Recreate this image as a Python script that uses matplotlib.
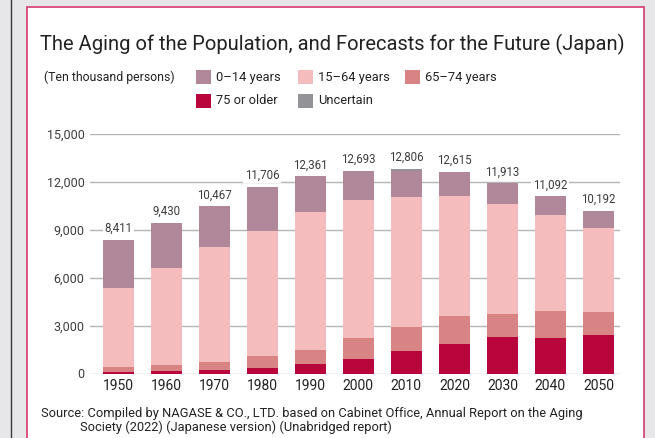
#!/usr/bin/env python3
"""
Stacked bar chart: the aging of the population in Japan, 1950-2050.

Output:
    out.png
"""

import numpy as np
import matplotlib.pyplot as plt
from matplotlib.patches import Rectangle
from matplotlib.lines import Line2D


# ============================================================
# Data (ten thousand persons)
# ============================================================

YEARS = ["1950", "1960", "1970", "1980", "1990", "2000",
         "2010", "2020", "2030", "2040", "2050"]

AGE_75_PLUS = [107, 163, 224, 366, 597, 900, 1407, 1860, 2288, 2239, 2417]
AGE_65_74 = [309, 376, 516, 699, 892, 1301, 1517, 1742, 1435, 1681, 1424]
AGE_15_64 = [4966, 6047, 7212, 7884, 8614, 8638, 8103, 7509, 6875, 5978, 5275]
AGE_0_14 = [2979, 2843, 2515, 2751, 2249, 1851, 1684, 1503, 1321, 1194, 1077]
UNCERTAIN = [0, 0, 0, 0, 0, 0, 70, 0, 0, 0, 0]

TOTALS = [8411, 9430, 10467, 11706, 12361, 12693,
          12806, 12615, 11913, 11092, 10192]

Y_TICKS = [0, 3000, 6000, 9000, 12000, 15000]


# ============================================================
# Style
# ============================================================

FONT = ["Roboto", "DejaVu Sans"]

COLORS = {
    "0\u201314 years": "#b0889a",
    "15\u201364 years": "#f5bcbe",
    "65\u201374 years": "#d88484",
    "75 or older": "#b8053c",
    "Uncertain": "#939397",
}

BG_GRAY = "#e7e7e9"
CARD_EDGE = "#d9487b"
GRID_COLOR = "#b4b4b8"
TEXT_DARK = "#222222"
TEXT_MID = "#3c3c3c"

W_PX, H_PX = 655, 438


def fx(px):
    return px / W_PX


def fy(py):
    return 1.0 - py / H_PX


def main():
    plt.rcParams["font.family"] = FONT

    fig = plt.figure(figsize=(W_PX / 100, H_PX / 100), dpi=100)
    fig.patch.set_facecolor(BG_GRAY)

    # page frame: dark rule on the left and the white card
    fig.add_artist(Line2D([fx(11), fx(11)], [0, 1], transform=fig.transFigure,
                          color="#3a3a3a", linewidth=1.0))
    fig.add_artist(Rectangle((fx(26.5), fy(460)), fx(618), fy(7) - fy(460),
                             transform=fig.transFigure, facecolor="white",
                             edgecolor=CARD_EDGE, linewidth=1.3, zorder=0))

    # ---- axes -------------------------------------------------
    left, right = 90, 620
    top, bottom = 134, 373.5
    ax = fig.add_axes([fx(left), fy(bottom), fx(right - left), fy(top) - fy(bottom)])
    ax.set_facecolor("none")

    x = np.arange(len(YEARS))
    width = 0.645

    series = [
        ("75 or older", AGE_75_PLUS),
        ("65\u201374 years", AGE_65_74),
        ("15\u201364 years", AGE_15_64),
        ("0\u201314 years", AGE_0_14),
        ("Uncertain", UNCERTAIN),
    ]

    base = np.zeros(len(YEARS))
    for name, vals in series:
        vals = np.asarray(vals, dtype=float)
        ax.bar(x, vals, width, bottom=base, color=COLORS[name],
               linewidth=0, zorder=3)
        base += vals

    for xi, total in zip(x, TOTALS):
        ax.annotate(f"{total:,}", (xi, total), xytext=(0, 3.5),
                    textcoords="offset points", ha="center", va="bottom",
                    fontsize=8.3, color=TEXT_MID, zorder=4,
                    bbox=dict(boxstyle="square,pad=0.15", facecolor="white",
                              edgecolor="none"))

    ax.set_xlim(-0.59, 10.45)
    ax.set_ylim(0, 15000)
    ax.set_yticks(Y_TICKS)
    ax.set_yticklabels([f"{v:,}" for v in Y_TICKS])
    ax.set_xticks(x)
    ax.set_xticklabels(YEARS)

    ax.grid(axis="y", color=GRID_COLOR, linewidth=1.0, zorder=1)
    ax.grid(axis="x", visible=False)
    for spine in ax.spines.values():
        spine.set_visible(False)
    ax.tick_params(axis="y", length=0, pad=4, labelsize=9, labelcolor=TEXT_MID)
    ax.tick_params(axis="x", length=0, pad=4, labelsize=10, labelcolor=TEXT_DARK)

    # ---- title, legend, source -------------------------------
    fig.text(fx(332), fy(44), "The Aging of the Population, and Forecasts for the Future (Japan)",
             ha="center", va="center", fontsize=14.5, color=TEXT_DARK)

    fig.text(fx(44), fy(77), "(Ten thousand persons)", ha="left", va="center",
             fontsize=8.8, color=TEXT_DARK)

    legend_items = [
        ("0\u201314 years", 196, 77),
        ("15\u201364 years", 298, 77),
        ("65\u201374 years", 405, 77),
        ("75 or older", 196, 101),
        ("Uncertain", 298, 101),
    ]
    sq_w, sq_h = 15, 14
    for name, px, py in legend_items:
        fig.add_artist(Rectangle((fx(px), fy(py + sq_h / 2)), fx(sq_w), fy(0) - fy(sq_h),
                                 transform=fig.transFigure,
                                 facecolor=COLORS[name], edgecolor="none"))
        fig.text(fx(px + sq_w + 5), fy(py), name, ha="left", va="center",
                 fontsize=9.3, color=TEXT_DARK)

    fig.text(fx(41), fy(413),
             "Source: Compiled by NAGASE & CO., LTD. based on Cabinet Office, "
             "Annual Report on the Aging",
             ha="left", va="center", fontsize=9.3, color=TEXT_DARK)
    fig.text(fx(80), fy(427.5),
             "Society (2022) (Japanese version) (Unabridged report)",
             ha="left", va="center", fontsize=9.3, color=TEXT_DARK)

    fig.savefig("out.png", dpi=100, facecolor=fig.get_facecolor())
    plt.close(fig)


if __name__ == "__main__":
    main()
